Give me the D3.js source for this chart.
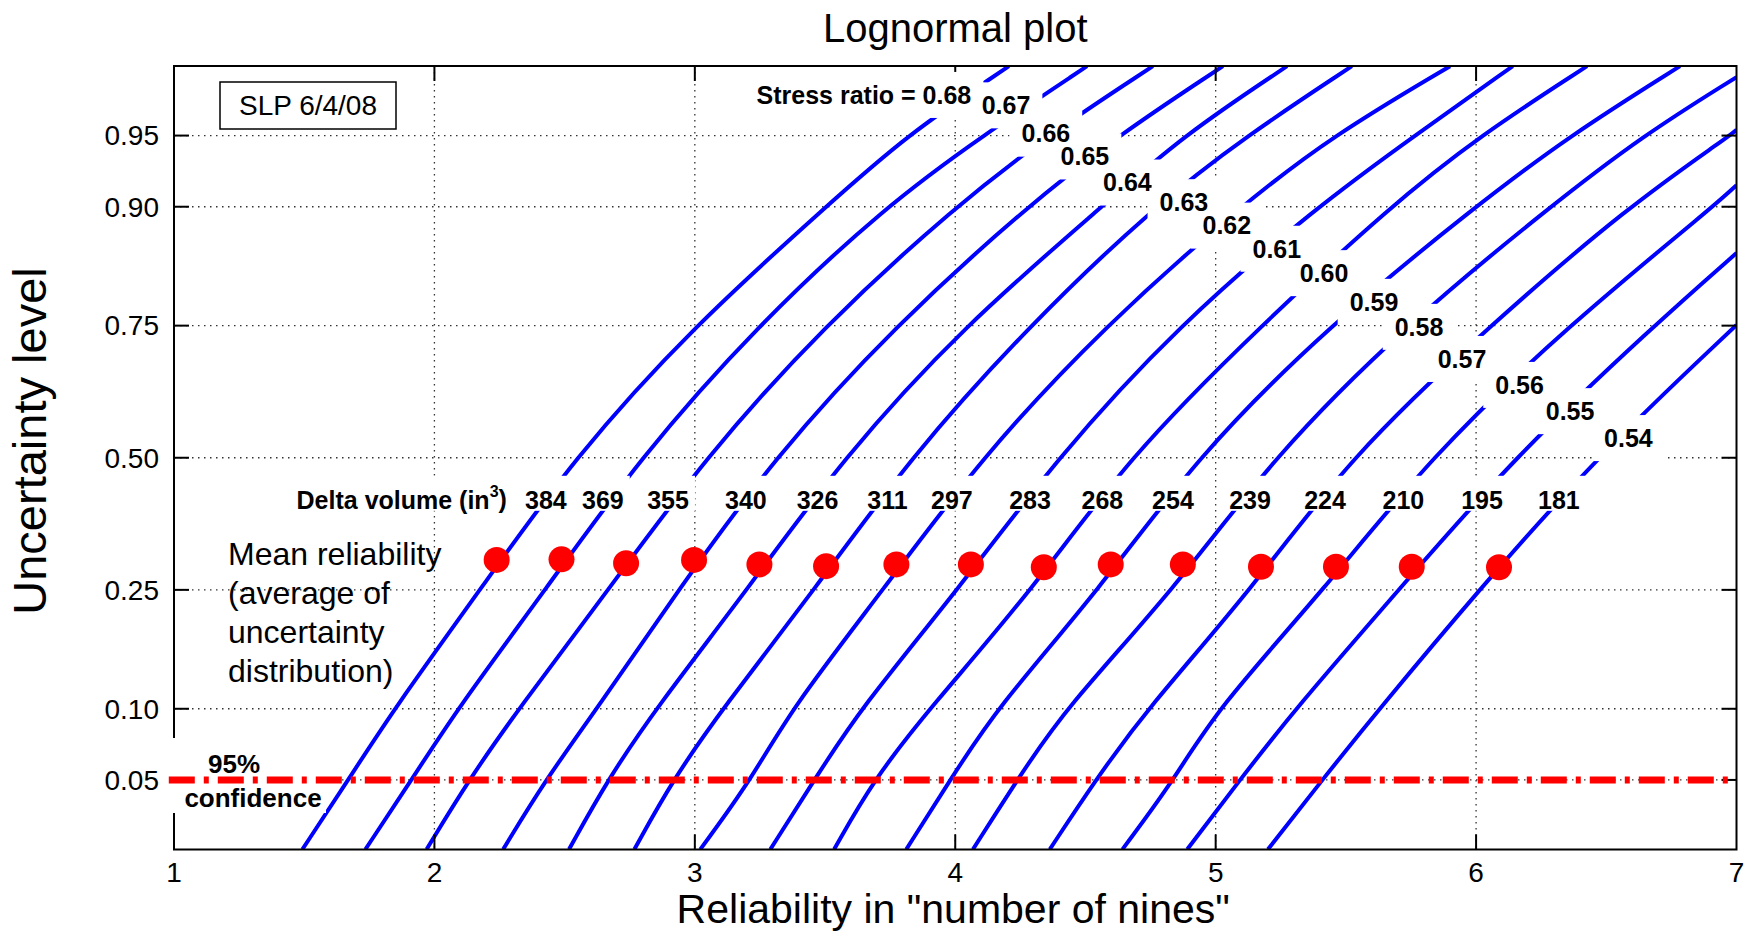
<!DOCTYPE html>
<html>
<head>
<meta charset="utf-8">
<script src="https://cdn.jsdelivr.net/npm/d3@7"></script>
<style>
  body { margin: 0; background: #fff; }
  svg { display: block; font-family: "Liberation Sans", Arial, Helvetica, sans-serif; }
</style>
</head>
<body>
<div id="chart"></div>
<script>
// axis ticks
const nineTicks = [1, 2, 3, 4, 5, 6, 7];
const levelTicks = [0.05, 0.10, 0.25, 0.50, 0.75, 0.90, 0.95];
const levelLabels = ["0.05", "0.10", "0.25", "0.50", "0.75", "0.90", "0.95"];

// one curve per stress ratio / delta volume
const stressRatios = [0.68, 0.67, 0.66, 0.65, 0.64, 0.63, 0.62, 0.61, 0.60, 0.59, 0.58, 0.57, 0.56, 0.55, 0.54];
const deltaVolumes = [384, 369, 355, 340, 326, 311, 297, 283, 268, 254, 239, 224, 210, 195, 181];

// [number of nines, uncertainty level]
const curves = [
  [[1.493, .0228], [1.669, .05], [1.845, .10], [2.175, .25], [2.536, .50], [2.997, .75], [3.504, .90], [3.811, .95], [4.206, .9772]],
  [[1.735, .0228], [1.912, .05], [2.088, .10], [2.426, .25], [2.789, .50], [3.239, .75], [3.730, .90], [4.106, .95], [4.506, .9772]],
  [[1.970, .0228], [2.132, .05], [2.323, .10], [2.668, .25], [3.039, .50], [3.496, .75], [3.999, .90], [4.353, .95], [4.759, .9772]],
  [[2.264, .0228], [2.426, .05], [2.624, .10], [2.937, .25], [3.304, .50], [3.769, .75], [4.275, .90], [4.625, .95], [5.028, .9772]],
  [[2.517, .0228], [2.665, .05], [2.849, .10], [3.201, .25], [3.569, .50], [4.034, .75], [4.563, .90], [4.875, .95], [5.274, .9772]],
  [[2.768, .0228], [2.915, .05], [3.106, .10], [3.459, .25], [3.826, .50], [4.283, .75], [4.763, .90], [5.120, .95], [5.523, .9772]],
  [[3.021, .0228], [3.216, .05], [3.370, .10], [3.723, .25], [4.099, .50], [4.575, .75], [5.093, .90], [5.450, .95], [5.900, .9772]],
  [[3.290, .0228], [3.459, .05], [3.635, .10], [4.010, .25], [4.391, .50], [4.855, .75], [5.389, .90], [5.765, .95], [6.141, .9772]],
  [[3.535, .0228], [3.686, .05], [3.900, .10], [4.297, .25], [4.663, .50], [5.174, .75], [5.669, .90], [6.015, .95], [6.426, .9772]],
  [[3.812, .0228], [3.981, .05], [4.157, .10], [4.553, .25], [4.924, .50], [5.435, .75], [5.996, .90], [6.360, .95], [6.783, .9772]],
  [[4.068, .0228], [4.238, .05], [4.421, .10], [4.840, .25], [5.218, .50], [5.727, .75], [6.284, .90], [6.641, .95], [7.000, .974]],
  [[4.363, .0228], [4.539, .05], [4.737, .10], [5.137, .25], [5.512, .50], [6.053, .75], [6.583, .90], [6.975, .95], [7.000, .953]],
  [[4.642, .0228], [4.840, .05], [5.005, .10], [5.416, .25], [5.821, .50], [6.353, .75], [6.910, .90], [7.000, .918]],
  [[4.891, .0228], [5.093, .05], [5.306, .10], [5.703, .25], [6.144, .50], [6.683, .75], [7.000, .852]],
  [[5.201, .0228], [5.409, .05], [5.629, .10], [6.011, .25], [6.460, .50], [7.000, .751]]
];

// mean reliability of each curve
const meanNines = [2.239, 2.488, 2.736, 2.997, 3.248, 3.504, 3.774, 4.060, 4.340, 4.597, 4.874, 5.174, 5.462, 5.753, 6.088];
const meanLevels = [0.301, 0.302, 0.295, 0.301, 0.293, 0.290, 0.293, 0.293, 0.288, 0.293, 0.293, 0.289, 0.289, 0.289, 0.288];

// where the contour-style labels sit, in data units
const ratioLabelAt = [[3.968, .968], [4.195, .964], [4.348, .951], [4.498, .938], [4.661, .920], [4.878, .904], [5.043, .882],
  [5.235, .857], [5.416, .827], [5.608, .787], [5.781, .748], [5.946, .693], [6.167, .645], [6.361, .594], [6.585, .540]];
const deltaLabelNines = [2.428, 2.647, 2.897, 3.196, 3.471, 3.740, 3.987, 4.287, 4.565, 4.836, 5.132, 5.420, 5.721, 6.023, 6.318];
const deltaLabelLevel = 0.415;
const confidenceLevel = 0.05;

// inverse normal cdf (Acklam) for the probability axis
function probit(p) {
  const a = [-39.69683028665376, 220.9460984245205, -275.9285104469687, 138.3577518672690, -30.66479806614716, 2.506628277459239];
  const b = [-54.47609879822406, 161.5858368580409, -155.6989798598866, 66.80131188771972, -13.28068155288572];
  const c = [-0.007784894002430293, -0.3223964580411365, -2.400758277161838, -2.549732539343734, 4.374664141464968, 2.938163982698783];
  const d = [0.007784695709041462, 0.3224671290700398, 2.445134137142996, 3.754408287184130];
  const plow = 0.02425;
  if (p < plow) {
    const q = Math.sqrt(-2 * Math.log(p));
    return (((((c[0] * q + c[1]) * q + c[2]) * q + c[3]) * q + c[4]) * q + c[5]) / ((((d[0] * q + d[1]) * q + d[2]) * q + d[3]) * q + 1);
  }
  if (p <= 1 - plow) {
    const q = p - 0.5, r = q * q;
    return (((((a[0] * r + a[1]) * r + a[2]) * r + a[3]) * r + a[4]) * r + a[5]) * q / (((((b[0] * r + b[1]) * r + b[2]) * r + b[3]) * r + b[4]) * r + 1);
  }
  const q = Math.sqrt(-2 * Math.log(1 - p));
  return -(((((c[0] * q + c[1]) * q + c[2]) * q + c[3]) * q + c[4]) * q + c[5]) / ((((d[0] * q + d[1]) * q + d[2]) * q + d[3]) * q + 1);
}

const width = 1750;
const height = 931;
const plot = { left: 174, right: 1736.5, top: 66, bottom: 849.5 };

const x = d3.scaleLinear().domain([1, 7]).range([plot.left, plot.right]);
const z = d3.scaleLinear().domain([-2, 2]).range([plot.bottom, plot.top]);
const y = p => z(probit(p));

const svg = d3.select("#chart")
  .append("svg")
  .attr("width", width)
  .attr("height", height);

svg.append("rect").attr("width", width).attr("height", height).attr("fill", "#fff");

svg.append("defs").append("clipPath").attr("id", "clip")
  .append("rect")
  .attr("x", plot.left).attr("y", plot.top)
  .attr("width", plot.right - plot.left).attr("height", plot.bottom - plot.top);

// dotted grid
const grid = svg.append("g")
  .attr("stroke", "#333")
  .attr("stroke-width", 1.3)
  .attr("stroke-dasharray", "1.5,4.5");

grid.selectAll(".gx")
  .data(nineTicks.slice(1, -1))
  .join("line")
  .attr("x1", d => x(d)).attr("x2", d => x(d))
  .attr("y1", plot.top).attr("y2", plot.bottom);

grid.selectAll(".gy")
  .data(levelTicks)
  .join("line")
  .attr("x1", plot.left).attr("x2", plot.right)
  .attr("y1", d => y(d)).attr("y2", d => y(d));

// curves
const line = d3.line()
  .x(d => x(d[0]))
  .y(d => y(d[1]))
  .curve(d3.curveBasis);

svg.append("g")
  .attr("clip-path", "url(#clip)")
  .selectAll("path")
  .data(curves)
  .join("path")
  .attr("fill", "none")
  .attr("stroke", "#0000ff")
  .attr("stroke-width", 4)
  .attr("stroke-linejoin", "round")
  .attr("d", line);

// mean reliability markers
svg.append("g")
  .selectAll("circle")
  .data(meanNines)
  .join("circle")
  .attr("cx", d => x(d))
  .attr("cy", (d, i) => y(meanLevels[i]))
  .attr("r", 13)
  .attr("fill", "#ff0000");

// axes box and inward ticks
const axes = svg.append("g").attr("stroke", "#000").attr("stroke-width", 2).attr("fill", "none");
axes.append("rect")
  .attr("x", plot.left).attr("y", plot.top)
  .attr("width", plot.right - plot.left).attr("height", plot.bottom - plot.top);

const tickLen = 15;
nineTicks.slice(1, -1).forEach(t => {
  axes.append("line").attr("x1", x(t)).attr("x2", x(t)).attr("y1", plot.bottom).attr("y2", plot.bottom - tickLen);
  axes.append("line").attr("x1", x(t)).attr("x2", x(t)).attr("y1", plot.top).attr("y2", plot.top + tickLen);
});
levelTicks.forEach(t => {
  axes.append("line").attr("x1", plot.left).attr("x2", plot.left + tickLen).attr("y1", y(t)).attr("y2", y(t));
  axes.append("line").attr("x1", plot.right).attr("x2", plot.right - tickLen).attr("y1", y(t)).attr("y2", y(t));
});

svg.append("g")
  .attr("font-size", 28)
  .attr("text-anchor", "middle")
  .selectAll("text")
  .data(nineTicks)
  .join("text")
  .attr("x", d => x(d))
  .attr("y", 882)
  .text(d => d);

svg.append("g")
  .attr("font-size", 28)
  .attr("text-anchor", "end")
  .selectAll("text")
  .data(levelTicks)
  .join("text")
  .attr("x", plot.left - 15)
  .attr("y", d => y(d))
  .attr("dy", "0.35em")
  .text((d, i) => levelLabels[i]);

// titles
svg.append("text")
  .attr("x", (plot.left + plot.right) / 2).attr("y", 42)
  .attr("text-anchor", "middle").attr("font-size", 40)
  .text("Lognormal plot");

svg.append("text")
  .attr("x", (plot.left + plot.right) / 2 - 2).attr("y", 923)
  .attr("text-anchor", "middle").attr("font-size", 41)
  .text("Reliability in \"number of nines\"");

svg.append("text")
  .attr("transform", "translate(46,441) rotate(-90)")
  .attr("text-anchor", "middle").attr("font-size", 47)
  .text("Uncertainty level");

// labels with white backgrounds that break the curves (all boxes under all texts)
const boxLayer = svg.append("g").attr("fill", "#fff");
const textLayer = svg.append("g").attr("font-size", 25).attr("font-weight", "bold");

function boxedLabel(str, cx, cy, anchor, padX, padTop, padBottom) {
  const t = textLayer.append("text")
    .attr("x", cx).attr("y", cy).attr("dy", "0.35em")
    .attr("text-anchor", anchor)
    .text(str);
  const rect = boxLayer.append("rect");
  const fit = () => {
    const bb = t.node().getBBox();
    rect.attr("x", bb.x - padX).attr("y", cy - padTop)
      .attr("width", bb.width + 2 * padX).attr("height", padTop + padBottom);
  };
  fit();
  return { t, fit };
}

stressRatios.forEach((r, i) => {
  const [nx, lv] = ratioLabelAt[i];
  if (i === 0) {
    const probe = textLayer.append("text").text(r.toFixed(2));
    const w = probe.node().getComputedTextLength();
    probe.remove();
    boxedLabel("Stress ratio = " + r.toFixed(2), x(nx) + w / 2, y(lv), "end", 12, 23, 23);
  } else {
    boxedLabel(r.toFixed(2), x(nx), y(lv), "middle", 12, 23, 23);
  }
});

deltaVolumes.forEach((v, i) => {
  boxedLabel(String(v), x(deltaLabelNines[i]), y(deltaLabelLevel), "middle", 6, 24, 11);
});

const dv = boxedLabel("", x(deltaLabelNines[0]) - 39, y(deltaLabelLevel), "end", 6, 24, 11);
dv.t.text("Delta volume (in");
dv.t.append("tspan").attr("font-size", 16).attr("dy", "-0.75em").text("3");
dv.t.append("tspan").attr("dy", "0.47em").text(")");
dv.fit();

// SLP stamp
svg.append("rect")
  .attr("x", 220).attr("y", 82).attr("width", 176).attr("height", 47)
  .attr("fill", "#fff").attr("stroke", "#000").attr("stroke-width", 1.5);
svg.append("text")
  .attr("x", 308).attr("y", 115)
  .attr("text-anchor", "middle").attr("font-size", 28)
  .text("SLP 6/4/08");

// mean reliability note
svg.append("text")
  .attr("font-size", 32)
  .selectAll("tspan")
  .data(["Mean reliability", "(average of", "uncertainty", "distribution)"])
  .join("tspan")
  .attr("x", 228)
  .attr("y", (d, i) => 565 + i * 39)
  .text(d => d);

// 95% confidence line
svg.append("rect")
  .attr("x", 168).attr("y", 738).attr("width", 158).attr("height", 75)
  .attr("fill", "#fff");

svg.append("line")
  .attr("x1", x(0.98)).attr("x2", x(7))
  .attr("y1", y(confidenceLevel)).attr("y2", y(confidenceLevel))
  .attr("stroke", "#ff0000")
  .attr("stroke-width", 7)
  .attr("stroke-dasharray", "26,9,5,9");

svg.append("text")
  .attr("x", 234).attr("y", 773)
  .attr("text-anchor", "middle").attr("font-size", 26).attr("font-weight", "bold")
  .text("95%");
svg.append("text")
  .attr("x", 253).attr("y", 807)
  .attr("text-anchor", "middle").attr("font-size", 26).attr("font-weight", "bold")
  .text("confidence");
</script>
</body>
</html>
